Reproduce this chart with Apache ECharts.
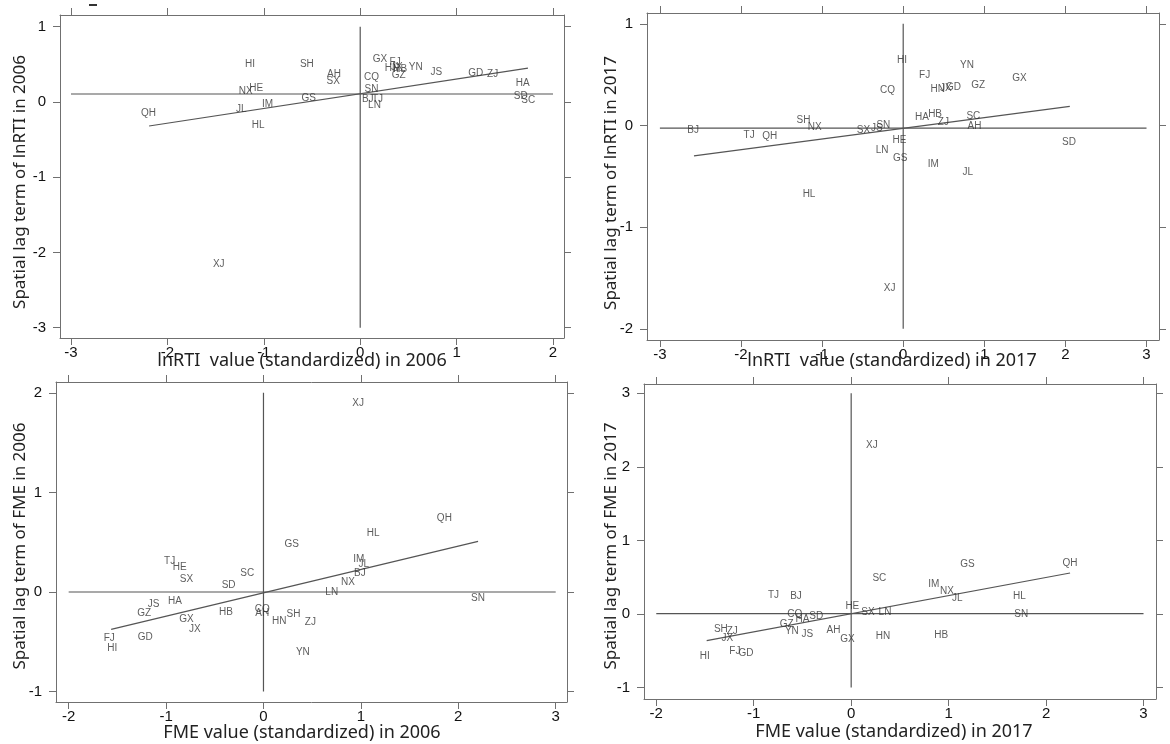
<!DOCTYPE html>
<html>
<head>
<meta charset="utf-8">
<script src="https://cdn.jsdelivr.net/npm/echarts@6/dist/echarts.min.js"></script>
<style>
  html, body {margin: 0; padding: 0; background: #fff;}
  #chart {width: 1170px; height: 744px;}
</style>
</head>
<body>
<div id="chart"></div>
<script>
// lnRTI 2006
var rti06Names = ["HI", "SH", "AH", "SX", "GX", "FJ", "HN", "JX", "HB", "GZ", "YN", "JS", "GD", "ZJ", "HA", "SD", "SC", "CQ", "SN", "BJ", "TJ", "LN", "NX", "HE", "GS", "IM", "JL", "QH", "HL", "XJ"];
var rti06X = [-1.144, -0.553, -0.272, -0.280, 0.206, 0.362, 0.33, 0.38, 0.415, 0.40, 0.576, 0.79, 1.198, 1.374, 1.685, 1.665, 1.743, 0.117, 0.117, 0.078, 0.179, 0.148, -1.187, -1.078, -0.533, -0.961, -1.233, -2.195, -1.058, -1.467];
var rti06Y = [0.502, 0.502, 0.369, 0.28, 0.569, 0.533, 0.45, 0.46, 0.44, 0.356, 0.458, 0.40, 0.387, 0.369, 0.253, 0.076, 0.022, 0.333, 0.164, 0.036, 0.036, -0.044, 0.147, 0.178, 0.044, -0.036, -0.102, -0.156, -0.311, -2.156];

// lnRTI 2017
var rti17Names = ["HI", "YN", "FJ", "GX", "GZ", "HN", "JX", "GD", "CQ", "HA", "HB", "ZJ", "SC", "AH", "SD", "BJ", "TJ", "QH", "SH", "NX", "SX", "JS", "SN", "HE", "LN", "GS", "IM", "JL", "HL", "XJ"];
var rti17X = [-0.014, 0.786, 0.264, 1.434, 0.925, 0.426, 0.527, 0.62, -0.194, 0.231, 0.393, 0.495, 0.865, 0.879, 2.044, -2.59, -1.90, -1.647, -1.23, -1.092, -0.49, -0.324, -0.245, -0.046, -0.259, -0.037, 0.37, 0.796, -1.161, -0.167];
var rti17Y = [0.64, 0.597, 0.489, 0.466, 0.391, 0.358, 0.368, 0.377, 0.351, 0.082, 0.115, 0.033, 0.089, -0.003, -0.164, -0.049, -0.092, -0.102, 0.049, -0.016, -0.043, -0.026, 0.0, -0.148, -0.24, -0.322, -0.377, -0.463, -0.676, -1.602];

// FME 2006
var fme06Names = ["XJ", "QH", "HL", "GS", "IM", "JL", "BJ", "NX", "LN", "SN", "TJ", "HE", "SX", "SC", "SD", "HA", "JS", "GZ", "GX", "JX", "HB", "CQ", "AH", "HN", "SH", "ZJ", "YN", "FJ", "HI", "GD"];
var fme06X = [0.971, 1.857, 1.125, 0.289, 0.978, 1.029, 0.99, 0.867, 0.701, 2.203, -0.963, -0.859, -0.79, -0.166, -0.358, -0.909, -1.129, -1.225, -0.79, -0.705, -0.385, -0.012, -0.012, 0.162, 0.308, 0.482, 0.404, -1.583, -1.552, -1.213];
var fme06Y = [1.898, 0.737, 0.586, 0.475, 0.328, 0.275, 0.191, 0.094, 0.0, -0.067, 0.311, 0.251, 0.124, 0.184, 0.067, -0.094, -0.127, -0.218, -0.275, -0.378, -0.201, -0.174, -0.214, -0.295, -0.228, -0.308, -0.603, -0.469, -0.569, -0.452];

// FME 2017
var fme17Names = ["XJ", "GS", "QH", "SC", "IM", "NX", "JL", "HL", "SN", "TJ", "BJ", "HE", "SX", "LN", "CQ", "HA", "SD", "GZ", "YN", "JS", "AH", "GX", "HN", "HB", "SH", "ZJ", "JX", "FJ", "GD", "HI"];
var fme17X = [0.212, 1.194, 2.246, 0.289, 0.847, 0.982, 1.09, 1.726, 1.745, -0.797, -0.566, 0.012, 0.173, 0.347, -0.578, -0.501, -0.358, -0.663, -0.609, -0.451, -0.181, -0.039, 0.327, 0.924, -1.337, -1.221, -1.271, -1.194, -1.079, -1.502];
var fme17Y = [2.297, 0.670, 0.689, 0.485, 0.408, 0.308, 0.217, 0.236, 0.0, 0.258, 0.236, 0.1, 0.023, 0.023, 0.0, -0.068, -0.036, -0.136, -0.236, -0.272, -0.226, -0.34, -0.308, -0.294, -0.204, -0.24, -0.326, -0.512, -0.535, -0.58];

// tick labels
var ticksX06 = [-3, -2, -1, 0, 1, 2];
var ticksY06 = [-3, -2, -1, 0, 1];
var ticksX17 = [-3, -2, -1, 0, 1, 2, 3];
var ticksY17 = [-2, -1, 0, 1];
var ticksXF = [-2, -1, 0, 1, 2, 3];
var ticksYF06 = [-1, 0, 1, 2];
var ticksYF17 = [-1, 0, 1, 2, 3];

// reference lines (mean lines) and fitted lines
var hLine1 = [[-3, 0.105], [2, 0.105]], vLine1 = [[0, -3], [0, 1]], fit1 = [[-2.19, -0.32], [1.74, 0.45]];
var hLine2 = [[-3, -0.026], [3, -0.026]], vLine2 = [[0, -2], [0, 1]], fit2 = [[-2.58, -0.299], [2.054, 0.187]];
var hLine3 = [[-2, 0], [3, 0]], vLine3 = [[0, -1], [0, 2]], fit3 = [[-1.564, -0.375], [2.203, 0.509]];
var hLine4 = [[-2, 0.005], [3, 0.005]], vLine4 = [[0, -1], [0, 3]], fit4 = [[-1.483, -0.362], [2.246, 0.557]];

var frameColor = "#707070", lineColor = "#555";
var tickFont = "Liberation Sans, Arial, sans-serif";
var titleFont = "Noto Sans, sans-serif";

var panels = [
    {grid: {left: 60, top: 15, width: 504, height: 323}, xr: [-3.114, 2.114], yr: [-3.137, 1.155],
        tx: ticksX06, ty: ticksY06, xName: "lnRTI  value (standardized) in 2006", yName: "Spatial lag term of lnRTI in 2006",
        xPos: [302, 361], yPos: [20, 182],
        names: rti06Names, xs: rti06X, ys: rti06Y, lines: [hLine1, vLine1, fit1]},
    {grid: {left: 647, top: 13, width: 512, height: 327}, xr: [-3.159, 3.154], yr: [-2.110, 1.106],
        tx: ticksX17, ty: ticksY17, xName: "lnRTI  value (standardized) in 2017", yName: "Spatial lag term of lnRTI in 2017",
        xPos: [892, 361], yPos: [611, 183],
        names: rti17Names, xs: rti17X, ys: rti17Y, lines: [hLine2, vLine2, fit2]},
    {grid: {left: 56, top: 382, width: 511, height: 320}, xr: [-2.13, 3.116], yr: [-1.105, 2.109],
        tx: ticksXF, ty: ticksYF06, xName: "FME value (standardized) in 2006", yName: "Spatial lag term of FME in 2006",
        xPos: [302, 733], yPos: [20, 546],
        names: fme06Names, xs: fme06X, ys: fme06Y, lines: [hLine3, vLine3, fit3]},
    {grid: {left: 644, top: 384, width: 512, height: 315}, xr: [-2.126, 3.128], yr: [-1.155, 3.126],
        tx: ticksXF, ty: ticksYF17, xName: "FME value (standardized) in 2017", yName: "Spatial lag term of FME in 2017",
        xPos: [894, 732], yPos: [611, 546],
        names: fme17Names, xs: fme17X, ys: fme17Y, lines: [hLine4, vLine4, fit4]}
];

function makeAxis(pos, idx, range, ticks, isX) {
    var main = (pos == "bottom" || pos == "left");
    return {
        type: "value", gridIndex: idx, position: pos, min: range[0], max: range[1],
        splitLine: {show: false},
        axisLine: {show: true, onZero: false, lineStyle: {color: frameColor, width: 1}},
        axisTick: {show: true, inside: false, length: 7, customValues: ticks, lineStyle: {color: frameColor}},
        axisLabel: {show: main, customValues: ticks, color: "#111", fontSize: 15, fontFamily: tickFont,
            margin: isX ? 7 : 14},
        silent: true
    };
}

var option = {
    animation: false, backgroundColor: "#fff", grid: [], xAxis: [], yAxis: [], series: [],
    graphic: [{type: "rect", left: 89, top: 4, shape: {width: 8, height: 2}, style: {fill: "#333"}}]
};

panels.forEach(function (p, i) {
    option.grid.push(p.grid);
    option.xAxis.push(makeAxis("bottom", i, p.xr, p.tx, true));
    option.xAxis.push(makeAxis("top", i, p.xr, p.tx, true));
    option.yAxis.push(makeAxis("left", i, p.yr, p.ty, false));
    option.yAxis.push(makeAxis("right", i, p.yr, p.ty, false));
    // axis titles sit a little off the grid centre in the original, so they are placed by hand
    option.graphic.push({
        type: "text", x: p.xPos[0], y: p.xPos[1], z: 10,
        style: {text: p.xName, align: "center", verticalAlign: "middle", fill: "#222",
            font: "18px " + titleFont}
    });
    option.graphic.push({
        type: "text", x: p.yPos[0], y: p.yPos[1], rotation: Math.PI / 2, z: 10,
        style: {text: p.yName, align: "center", verticalAlign: "middle", fill: "#222",
            font: "17px " + titleFont}
    });
    p.lines.forEach(function (l) {
        option.series.push({
            type: "line", xAxisIndex: i * 2, yAxisIndex: i * 2, data: l, showSymbol: false,
            silent: true, lineStyle: {color: lineColor, width: 1.2}
        });
    });
    var pts = p.names.map(function (n, k) {
        return [p.xs[k], p.ys[k], n];
    });
    option.series.push({
        type: "scatter", xAxisIndex: i * 2, yAxisIndex: i * 2, data: pts, symbolSize: 1,
        itemStyle: {color: "rgba(0,0,0,0)"}, silent: true, z: 5,
        label: {show: true, position: "inside", formatter: function (d) { return d.data[2]; },
            color: "#333", fontSize: 10, fontFamily: tickFont},
        labelLayout: {hideOverlap: false}
    });
});

var chart = echarts.init(document.getElementById("chart"));
chart.setOption(option);
</script>
</body>
</html>
